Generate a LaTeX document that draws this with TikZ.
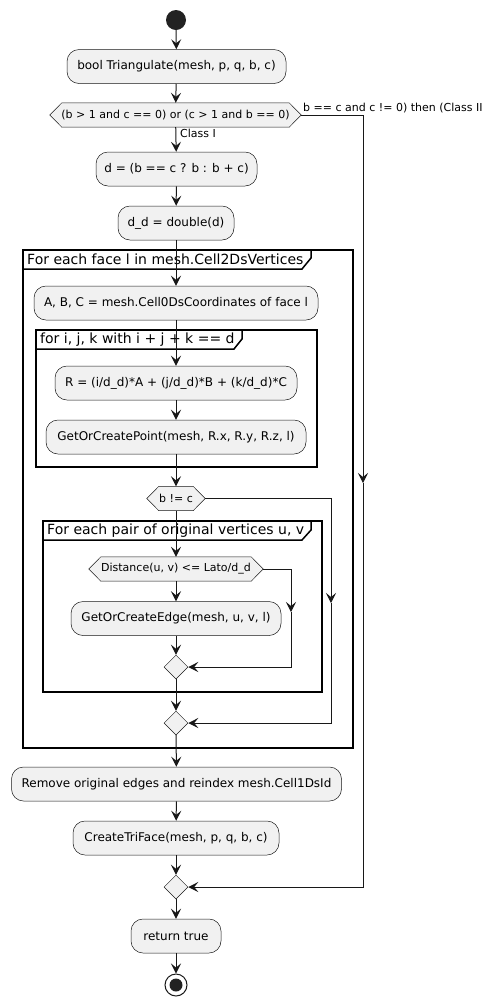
\documentclass[tikz,border=0pt]{standalone}
\usepackage{fontspec}
\setmainfont{DejaVu Sans}
\usetikzlibrary{arrows.meta,shapes.geometric,calc,backgrounds}

\definecolor{ink}{HTML}{181818}
\definecolor{boxfill}{HTML}{F1F1F1}
\definecolor{dot}{HTML}{222222}

% outline of a pointed (hexagonal) condition node, drawn behind its text
\newcommand\hexoutline[1]{%
  \begin{scope}[on background layer]
    \draw[hexline] ($(#1.north west)+(12,0)$) -- ($(#1.north east)-(12,0)$) -- (#1.east)
      -- ($(#1.south east)-(12,0)$) -- ($(#1.south west)+(12,0)$) -- (#1.west) -- cycle;
  \end{scope}}

\begin{document}
\begin{tikzpicture}[x=1pt,y=-1pt,
  act/.style={draw=ink, line width=0.5pt, fill=boxfill, rounded corners=12pt,
    minimum height=34pt, inner sep=0pt, font=\fontsize{12}{14}\selectfont, text=black},
  cond/.style={minimum height=24pt, inner sep=0pt, font=\fontsize{11}{13}\selectfont},
  hexline/.style={draw=ink, line width=0.5pt, fill=boxfill},
  merge/.style={diamond, draw=ink, line width=0.5pt, fill=boxfill,
    minimum width=24pt, minimum height=24pt, inner sep=0pt},
  flow/.style={draw=ink, line width=1pt, -{Stealth[length=10pt,width=10pt,inset=4pt]}},
  link/.style={draw=ink, line width=1pt},
  frameline/.style={draw=black, line width=1.5pt},
  frametitle/.style={anchor=west, inner sep=0pt, font=\fontsize{14}{16}\selectfont},
  note/.style={inner sep=0pt, font=\fontsize{11}{13}\selectfont},
]
\useasboundingbox (0,0) rectangle (492,1005);

% ---- loop frames ----
\draw[frameline] (23,250) rectangle (353,748);
\draw[frameline] (23,269) -- (302,269) -- (311,258) -- (311,250);
\node[frametitle] (t1) at (27,259.5) {For each face l in mesh.Cell2DsVertices};

\draw[frameline] (36,330) rectangle (317,467);
\draw[frameline] (36,349) -- (234,349) -- (242,339) -- (242,330);
\node[frametitle] (t2) at (40,339.5) {for i, j, k with i + j + k == d};

\draw[frameline] (43,521) rectangle (322,692);
\draw[frameline] (43,540) -- (302,540) -- (311,530) -- (311,521);
\node[frametitle] (t3) at (47,530.5) {For each pair of original vertices u, v};

% ---- nodes ----
\node[circle, fill=dot, minimum size=20pt, inner sep=0pt] (start) at (176,20) {};
\node[act, minimum width=219pt] (tri) at (176.5,66.5) {bool Triangulate(mesh, p, q, b, c)};
\node[cond, minimum width=251pt] (cls) at (175.5,115) {(b > 1 and c == 0) or (c > 1 and b == 0)};
\hexoutline{cls}
\node[act, minimum width=161pt] (deg) at (176.5,169) {d = (b == c ? b : b + c)};
\node[act, minimum width=116pt] (dd) at (176,223) {d\_d = double(d)};
\node[act, minimum width=284pt] (abc) at (176,303) {A, B, C = mesh.Cell0DsCoordinates of face l};
\node[act, minimum width=242pt] (rp) at (176,383) {R = (i/d\_d)*A + (j/d\_d)*B + (k/d\_d)*C};
\node[act, minimum width=260pt] (gp) at (176,437) {GetOrCreatePoint(mesh, R.x, R.y, R.z, l)};
\node[cond, minimum width=58pt] (neq) at (176,498.5) {b != c};
\hexoutline{neq}
\node[cond, minimum width=174pt] (dist) at (176,569) {Distance(u, v) <= Lato/d\_d};
\hexoutline{dist}
\node[act, minimum width=210pt] (edge) at (176,618.5) {GetOrCreateEdge(mesh, u, v, l)};
\node[merge] (m1) at (176,667) {};
\node[merge] (m2) at (176,723) {};
\node[act, minimum width=330pt] (rem) at (176.5,784) {Remove original edges and reindex mesh.Cell1DsId};
\node[act, minimum width=206pt] (face) at (176,838) {CreateTriFace(mesh, p, q, b, c)};
\node[merge] (m3) at (176,887) {};
\node[act, minimum width=90pt] (ret) at (176,936) {return true};
\node[circle, draw=ink, line width=1pt, fill=white, minimum size=22pt, inner sep=0pt] (stop) at (176,985) {};
\node[circle, fill=dot, minimum size=13pt, inner sep=0pt] (stopdot) at (stop) {};

% ---- branch labels ----
\node[note, anchor=west] (lbl1) at (180,133) {Class I};
\node[note, anchor=base west] (lbl2) at (303,111.5) {b == c and c != 0) then (Class II};

% ---- connectors ----
\coordinate (r1) at (363,483);
\coordinate (r2) at (331,603);
\coordinate (r3) at (291,612);

\draw[flow] (start) -- (tri);
\draw[flow] (tri) -- (cls);
\draw[flow] (cls) -- (deg);
\draw[flow] (cls.east) -| (r1);
\draw[flow] (r1) |- (m3.east);
\draw[flow] (deg) -- (dd);
\draw[flow] (dd) -- (abc);
\draw[flow] (abc) -- (rp);
\draw[flow] (rp) -- (gp);
\draw[flow] (gp) -- (neq);
\draw[flow] (neq) -- (dist);
\draw[flow] (neq.east) -| (r2);
\draw[flow] (r2) |- (m2.east);
\draw[flow] (dist) -- (edge);
\draw[flow] (dist.east) -| (r3);
\draw[flow] (r3) |- (m1.east);
\draw[flow] (edge) -- (m1);
\draw[flow] (m1) -- (m2);
\draw[flow] (m2) -- (rem);
\draw[flow] (rem) -- (face);
\draw[flow] (face) -- (m3);
\draw[flow] (m3) -- (ret);
\draw[flow] (ret) -- (stop);
\end{tikzpicture}
\end{document}
